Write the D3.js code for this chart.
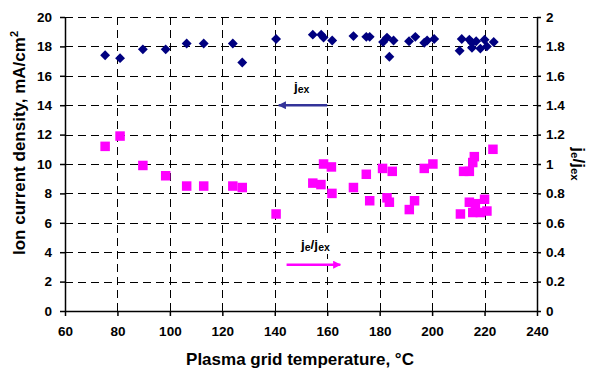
<!DOCTYPE html>
<html>
<head>
<meta charset="utf-8">
<script src="https://cdn.jsdelivr.net/npm/d3@7"></script>
<style>
  html, body { margin: 0; padding: 0; background: #fff; }
  svg { display: block; font-family: "Liberation Sans", Arial, sans-serif; }
  .tick text { font-size: 13.5px; font-weight: bold; fill: #000; }
</style>
</head>
<body>
<svg id="chart" width="590" height="370"></svg>
<script>
// Extracted ion current density j_ex (mA/cm^2) vs plasma grid temperature (°C)
const jexTemp = [75.3, 81.0, 89.7, 98.4, 106.4, 112.9, 124.0, 127.6, 140.5, 154.5,
  157.7, 158.6, 161.9, 170.0, 174.9, 176.2, 181.3, 182.8, 183.7, 185.3,
  191.2, 193.6, 197.0, 198.1, 200.8, 210.5, 211.3, 214.2, 215.2, 216.8,
  215.2, 218.4, 220.0, 220.9, 223.5];
const jexValue = [17.4, 17.2, 17.8, 17.8, 18.2, 18.2, 18.2, 16.9, 18.5, 18.8,
  18.8, 18.6, 18.4, 18.7, 18.65, 18.65, 18.3, 18.6, 17.3, 18.4,
  18.35, 18.65, 18.25, 18.4, 18.5, 17.7, 18.5, 18.45, 18.25, 18.35,
  17.9, 17.85, 18.45, 18.0, 18.3];

// Co-extracted electron to ion current ratio j_e/j_ex (right axis)
const ratioTemp = [75.3, 81.0, 89.7, 98.4, 106.4, 112.9, 124.0, 127.6, 140.5, 154.5,
  157.6, 158.6, 161.6, 161.8, 170.0, 174.9, 176.2, 181.1, 182.8, 183.7,
  184.8, 191.3, 193.3, 197.0, 200.3, 210.8, 212.0, 214.2, 214.2, 215.5,
  215.5, 216.1, 216.5, 218.4, 220.0, 220.9, 223.2];
const ratioValue = [1.12, 1.19, 0.99, 0.92, 0.85, 0.85, 0.85, 0.84, 0.66, 0.87,
  0.86, 1.00, 0.98, 0.80, 0.84, 0.93, 0.75, 0.97, 0.77, 0.74,
  0.95, 0.69, 0.75, 0.97, 1.00, 0.66, 0.95, 0.95, 0.74, 1.01,
  0.67, 1.05, 0.73, 0.67, 0.76, 0.68, 1.10];

const xTicks = [60, 80, 100, 120, 140, 160, 180, 200, 220, 240];
const leftTicks = [0, 2, 4, 6, 8, 10, 12, 14, 16, 18, 20];
const rightTicks = [0, 0.2, 0.4, 0.6, 0.8, 1, 1.2, 1.4, 1.6, 1.8, 2];

// Annotation arrows: [fromX, toX] in °C, at a given axis value
const jexArrow = { x: [160, 141.5], y: 14 };
const ratioArrow = { x: [144.5, 165], y: 0.315 };

const svg = d3.select("#chart");
const plot = { left: 65, right: 537, top: 17, bottom: 311 };

const x = d3.scaleLinear().domain([60, 240]).range([plot.left, plot.right]);
const yL = d3.scaleLinear().domain([0, 20]).range([plot.bottom, plot.top]);
const yR = d3.scaleLinear().domain([0, 2]).range([plot.bottom, plot.top]);

// Dashed grid
const grid = svg.append("g").attr("stroke", "#000").attr("stroke-width", 1)
  .attr("stroke-dasharray", "8,5").attr("shape-rendering", "crispEdges");
grid.selectAll("line.h").data(leftTicks.filter(d => d > 0)).join("line")
  .attr("x1", plot.left).attr("x2", plot.right)
  .attr("y1", d => Math.round(yL(d)) + 0.5).attr("y2", d => Math.round(yL(d)) + 0.5);
grid.selectAll("line.v").data(xTicks.filter(d => d > 60 && d < 240)).join("line")
  .attr("y1", plot.top).attr("y2", plot.bottom)
  .attr("x1", d => Math.round(x(d)) + 0.5).attr("x2", d => Math.round(x(d)) + 0.5);

// Axes
const fmtR = d => d === 0 || d === 1 || d === 2 ? String(d) : d3.format(".1f")(d);
svg.append("g").attr("transform", `translate(0,${plot.bottom})`)
  .call(d3.axisBottom(x).tickValues(xTicks).tickSize(5).tickPadding(10).tickSizeOuter(0));
svg.append("g").attr("transform", `translate(${plot.left},0)`)
  .call(d3.axisLeft(yL).tickValues(leftTicks).tickSize(5).tickPadding(8).tickSizeOuter(0));
svg.append("g").attr("transform", `translate(${plot.right},0)`)
  .call(d3.axisRight(yR).tickValues(rightTicks).tickFormat(fmtR).tickSize(4).tickPadding(5).tickSizeOuter(0));
svg.selectAll(".domain, .tick line").attr("stroke", "#000").attr("stroke-width", 1.5);

// j_ex diamonds
svg.append("g").selectAll("path").data(jexTemp).join("path")
  .attr("transform", (d, i) => `translate(${x(d)},${yL(jexValue[i])}) rotate(45)`)
  .attr("d", "M-3.5,-3.5H3.5V3.5H-3.5Z")
  .attr("fill", "#000080");

// j_e/j_ex squares
svg.append("g").selectAll("rect").data(ratioTemp).join("rect")
  .attr("x", d => x(d) - 4.75)
  .attr("y", (d, i) => yR(ratioValue[i]) - 4.75)
  .attr("width", 9.5).attr("height", 9.5)
  .attr("fill", "#ff00ff");

// Arrow annotations
const defs = svg.append("defs");
function marker(id, color) {
  defs.append("marker").attr("id", id).attr("viewBox", "0 0 10 10")
    .attr("refX", 9).attr("refY", 5).attr("markerWidth", 3.2).attr("markerHeight", 3.2)
    .attr("orient", "auto").attr("markerUnits", "strokeWidth")
    .append("path").attr("d", "M0,0L10,5L0,10Z").attr("fill", color);
}
marker("arrBlue", "#333399");
marker("arrPink", "#ff00ff");

svg.append("line")
  .attr("x1", x(jexArrow.x[0])).attr("x2", x(jexArrow.x[1]))
  .attr("y1", yL(jexArrow.y)).attr("y2", yL(jexArrow.y))
  .attr("stroke", "#333399").attr("stroke-width", 2.5).attr("marker-end", "url(#arrBlue)");
svg.append("line")
  .attr("x1", x(ratioArrow.x[0])).attr("x2", x(ratioArrow.x[1]))
  .attr("y1", yR(ratioArrow.y)).attr("y2", yR(ratioArrow.y))
  .attr("stroke", "#ff00ff").attr("stroke-width", 2.5).attr("marker-end", "url(#arrPink)");

function subLabel(g, parts, bigSize, smallSize) {
  const t = g.append("text").attr("font-weight", "bold").attr("fill", "#000");
  parts.forEach(p => {
    t.append("tspan").text(p.t)
      .attr("font-size", p.sub ? smallSize : bigSize)
      .attr("dy", p.dy || 0);
  });
  return t;
}

const jexLabel = svg.append("g").attr("transform", "translate(294,91)");
subLabel(jexLabel, [{ t: "j" }, { t: "ex", sub: true, dy: 1.5 }], 13.5, 10.5);

const ratioLabel = svg.append("g").attr("transform", "translate(301,249)");
ratioLabel.append("rect").attr("x", -3).attr("y", -12).attr("width", 42).attr("height", 17).attr("fill", "#fff");
subLabel(ratioLabel, [{ t: "j" }, { t: "e", sub: true, dy: 1.5 }, { t: "/j", dy: -1.5 }, { t: "ex", sub: true, dy: 1.5 }], 13.5, 10.5);

// Axis titles
svg.append("text").attr("x", 300).attr("y", 365).attr("text-anchor", "middle")
  .attr("font-size", 17).attr("font-weight", "bold")
  .text("Plasma grid temperature, °C");

const yTitle = svg.append("text")
  .attr("transform", "translate(25,143) rotate(-90)")
  .attr("text-anchor", "middle").attr("font-size", 17).attr("font-weight", "bold");
yTitle.append("tspan").text("Ion current density, mA/cm");
yTitle.append("tspan").text("2").attr("font-size", 11).attr("dy", -7);

const rTitle = svg.append("text")
  .attr("transform", "translate(573,164) rotate(90)")
  .attr("text-anchor", "middle").attr("font-weight", "bold");
rTitle.append("tspan").text("j").attr("font-size", 17);
rTitle.append("tspan").text("e").attr("font-size", 11.5).attr("dy", 2);
rTitle.append("tspan").text("/j").attr("font-size", 17).attr("dy", -2);
rTitle.append("tspan").text("ex").attr("font-size", 11.5).attr("dy", 2);
</script>
</body>
</html>
